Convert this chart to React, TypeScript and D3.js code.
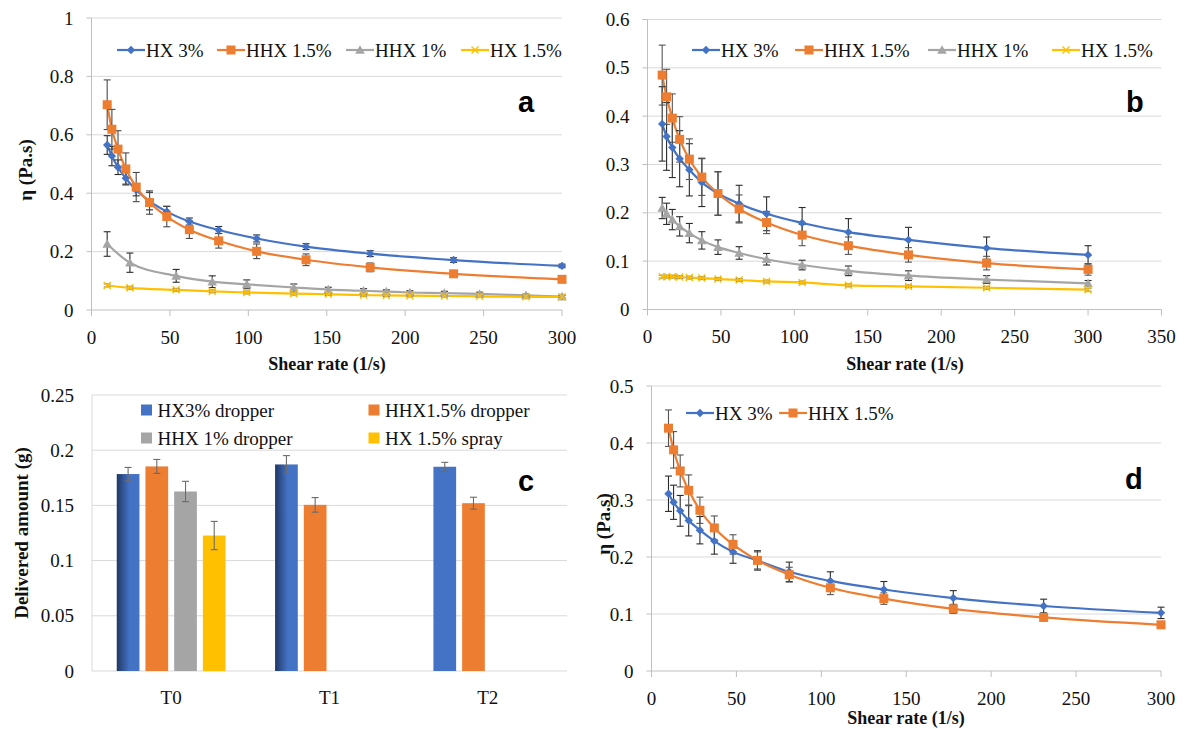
import React from 'react';
import * as d3 from 'd3';

// ---------- DATA ----------
const shearRate = [10, 13, 16.9, 21.9, 28.5, 37, 48, 62.4, 81.1, 105.3, 136.8, 177.7, 230.9, 300];
const shearRateA2 = [10, 24.5, 54, 77, 99, 129, 151, 173.5, 188, 203, 225, 247.5, 277, 300];

// panel a
const aHX3 = [0.565, 0.527, 0.489, 0.451, 0.411, 0.373, 0.337, 0.303, 0.274, 0.245, 0.217, 0.193, 0.171, 0.151];
const aHX3Err = [0.032, 0.033, 0.025, 0.02, 0.02, 0.03, 0.018, 0.012, 0.012, 0.012, 0.01, 0.01, 0.008, 0.006];
const aHHX15 = [0.703, 0.619, 0.551, 0.483, 0.421, 0.368, 0.32, 0.275, 0.237, 0.201, 0.172, 0.146, 0.124, 0.105];
const aHHX15Err = [0.085, 0.068, 0.063, 0.055, 0.05, 0.04, 0.035, 0.03, 0.025, 0.025, 0.02, 0.015, 0.008, 0.007];
const aHHX1 = [0.226, 0.162, 0.117, 0.097, 0.088, 0.077, 0.07, 0.066, 0.063, 0.06, 0.058, 0.055, 0.05, 0.046];
const aHHX1Err = [0.042, 0.033, 0.022, 0.02, 0.015, 0.012, 0.008, 0.007, 0.006, 0.006, 0.006, 0.006, 0.005, 0.005];
const aHX15 = [0.084, 0.076, 0.069, 0.064, 0.06, 0.056, 0.054, 0.051, 0.05, 0.049, 0.048, 0.047, 0.045, 0.045];
const aHX15Err = [0.005, 0.005, 0.005, 0.005, 0.005, 0.005, 0.004, 0.004, 0.004, 0.004, 0.004, 0.004, 0.004, 0.004];

// panel b
const bHX3 = [0.384, 0.358, 0.335, 0.312, 0.289, 0.263, 0.24, 0.219, 0.198, 0.179, 0.16, 0.144, 0.127, 0.113];
const bHX3Err = [0.077, 0.07, 0.062, 0.058, 0.054, 0.05, 0.045, 0.038, 0.035, 0.032, 0.028, 0.026, 0.023, 0.019];
const bHHX15 = [0.485, 0.44, 0.396, 0.352, 0.311, 0.274, 0.24, 0.208, 0.18, 0.154, 0.132, 0.113, 0.096, 0.083];
const bHHX15Err = [0.062, 0.057, 0.05, 0.047, 0.042, 0.038, 0.045, 0.029, 0.023, 0.022, 0.018, 0.015, 0.014, 0.012];
const bHHX1 = [0.21, 0.198, 0.186, 0.172, 0.158, 0.143, 0.129, 0.117, 0.104, 0.092, 0.08, 0.07, 0.062, 0.054];
const bHHX1Err = [0.022, 0.022, 0.021, 0.02, 0.02, 0.018, 0.015, 0.013, 0.012, 0.01, 0.01, 0.01, 0.008, 0.006];
const bHX15 = [0.068, 0.068, 0.068, 0.067, 0.066, 0.065, 0.063, 0.061, 0.058, 0.056, 0.05, 0.048, 0.045, 0.041];
const bHX15Err = [0.003, 0.003, 0.003, 0.003, 0.003, 0.003, 0.003, 0.003, 0.003, 0.003, 0.003, 0.003, 0.003, 0.003];

// panel c
const cCategories = ['T0', 'T1', 'T2'];
const cSeriesNames = ['HX3% dropper', 'HHX1.5% dropper', 'HHX 1% dropper', 'HX 1.5% spray'];
const cHX3 = [0.1784, 0.1871, 0.185];
const cHX3Err = [0.006, 0.008, 0.004];
const cHHX15 = [0.1853, 0.1505, 0.152];
const cHHX15Err = [0.0063, 0.0066, 0.0054];
const cHHX1 = [0.1626, null, null];
const cHHX1Err = [0.0092, null, null];
const cHX15 = [0.1227, null, null];
const cHX15Err = [0.0128, null, null];

// panel d
const dHX3 = [0.311, 0.296, 0.281, 0.264, 0.247, 0.228, 0.209, 0.194, 0.174, 0.158, 0.143, 0.128, 0.114, 0.102];
const dHX3Err = [0.031, 0.03, 0.027, 0.027, 0.024, 0.023, 0.02, 0.017, 0.017, 0.016, 0.014, 0.013, 0.012, 0.01];
const dHHX15 = [0.426, 0.388, 0.351, 0.317, 0.282, 0.251, 0.222, 0.194, 0.169, 0.146, 0.127, 0.109, 0.094, 0.081];
const dHHX15Err = [0.032, 0.032, 0.028, 0.027, 0.023, 0.021, 0.017, 0.015, 0.013, 0.012, 0.01, 0.008, 0.006, 0.005];

const legendNames = ['HX 3%', 'HHX 1.5%', 'HHX 1%', 'HX 1.5%'];

const xTicks300 = [0, 50, 100, 150, 200, 250, 300];
const xTicks350 = [0, 50, 100, 150, 200, 250, 300, 350];
const yTicksA = [0, 0.2, 0.4, 0.6, 0.8, 1];
const yLabelsA = ['0', '0.2', '0.4', '0.6', '0.8', '1'];
const yTicksB = [0, 0.1, 0.2, 0.3, 0.4, 0.5, 0.6];
const yLabelsB = ['0', '0.1', '0.2', '0.3', '0.4', '0.5', '0.6'];
const yTicksC = [0, 0.05, 0.1, 0.15, 0.2, 0.25];
const yLabelsC = ['0', '0.05', '0.1', '0.15', '0.2', '0.25'];
const yTicksD = [0, 0.1, 0.2, 0.3, 0.4, 0.5];
const yLabelsD = ['0', '0.1', '0.2', '0.3', '0.4', '0.5'];

// ---------- STYLE ----------
const BLUE = '#4472C4';
const ORANGE = '#ED7D31';
const GRAY = '#A5A5A5';
const YELLOW = '#FFC000';
const GRID = '#d9d9d9';
const AXIS = '#bfbfbf';
const SERIF = '"Liberation Serif", "Times New Roman", serif';
const SANS = '"Liberation Sans", Arial, sans-serif';
const TXT = '#111';

type Marker = 'diamond' | 'square' | 'triangle' | 'x';
type Series = { xs: number[]; ys: number[]; errs: number[]; color: string; marker: Marker; errColor: string };

function MarkerShape({ type, cx, cy, color }: { type: Marker; cx: number; cy: number; color: string }) {
  if (type === 'diamond') {
    const r = 4.2;
    return <path d={`M${cx},${cy - r}L${cx + r},${cy}L${cx},${cy + r}L${cx - r},${cy}Z`} fill={color} />;
  }
  if (type === 'square') {
    const s = 9;
    return <rect x={cx - s / 2} y={cy - s / 2} width={s} height={s} fill={color} />;
  }
  if (type === 'triangle') {
    const r = 4.8;
    return <path d={`M${cx},${cy - r}L${cx + r},${cy + r * 0.8}L${cx - r},${cy + r * 0.8}Z`} fill={color} />;
  }
  const r = 3.5;
  return (
    <path d={`M${cx - r},${cy - r}L${cx + r},${cy + r}M${cx - r},${cy + r}L${cx + r},${cy - r}`} stroke={color} strokeWidth={1.4} fill="none" />
  );
}

function ErrorBar({ x, yTop, yBot, color, cap = 3.5 }: { x: number; yTop: number; yBot: number; color: string; cap?: number }) {
  return (
    <g stroke={color} strokeWidth={1.1} fill="none">
      <line x1={x} x2={x} y1={yTop} y2={yBot} />
      <line x1={x - cap} x2={x + cap} y1={yTop} y2={yTop} />
      <line x1={x - cap} x2={x + cap} y1={yBot} y2={yBot} />
    </g>
  );
}

type LineProps = {
  left: number; right: number; top: number; bottom: number;
  xMax: number; yMax: number;
  xTicks: number[]; yTicks: number[]; yLabels: string[];
  series: Series[];
  legendXs: number[]; legendY: number;
  xTitleX: number; xTitleY: number;
  yTitle?: { x: number; y: number };
  letter: string; letterX: number; letterY: number;
};

function LinePanel(p: LineProps) {
  const x = d3.scaleLinear().domain([0, p.xMax]).range([p.left, p.right]);
  const y = d3.scaleLinear().domain([0, p.yMax]).range([p.bottom, p.top]);
  const line = d3.line<[number, number]>().x((d) => x(d[0])).y((d) => y(d[1])).curve(d3.curveMonotoneX);
  return (
    <g>
      {p.yTicks.filter((t) => t > 0).map((t) => (
        <line key={'g' + t} x1={p.left} x2={p.right} y1={y(t)} y2={y(t)} stroke={GRID} strokeWidth={1} />
      ))}
      <line x1={p.left} x2={p.left} y1={p.top} y2={p.bottom} stroke={AXIS} />
      <line x1={p.left} x2={p.right} y1={p.bottom} y2={p.bottom} stroke={AXIS} />
      {p.yTicks.map((t) => (
        <line key={'yt' + t} x1={p.left - 5} x2={p.left} y1={y(t)} y2={y(t)} stroke={AXIS} />
      ))}
      {p.xTicks.map((t) => (
        <line key={'xt' + t} x1={x(t)} x2={x(t)} y1={p.bottom} y2={p.bottom + 6} stroke={AXIS} />
      ))}
      {p.yTicks.map((t, i) => (
        <text key={'yl' + t} x={p.left - 18} y={y(t)} textAnchor="end" dominantBaseline="central" fontFamily={SERIF} fontSize={19} fill={TXT}>
          {p.yLabels[i]}
        </text>
      ))}
      {p.xTicks.map((t) => (
        <text key={'xl' + t} x={x(t)} y={p.bottom + 27} textAnchor="middle" dominantBaseline="central" fontFamily={SERIF} fontSize={19} fill={TXT}>
          {t}
        </text>
      ))}
      <text x={p.xTitleX} y={p.xTitleY} textAnchor="middle" dominantBaseline="central" fontFamily={SERIF} fontWeight="bold" fontSize={18} fill={TXT}>
        Shear rate (1/s)
      </text>
      {p.yTitle && (
        <text transform={`translate(${p.yTitle.x},${p.yTitle.y}) rotate(-90)`} textAnchor="middle" dominantBaseline="central" fontFamily={SERIF} fontWeight="bold" fontSize={19} fill={TXT}>
          η (Pa.s)
        </text>
      )}
      {p.series.map((s, si) => (
        <g key={'s' + si}>
          <path d={line(s.xs.map((v, i) => [v, s.ys[i]]) as [number, number][]) || ''} fill="none" stroke={s.color} strokeWidth={2.2} />
        </g>
      ))}
      {p.series.map((s, si) => (
        <g key={'e' + si}>
          {s.xs.map((v, i) => (
            <ErrorBar key={i} x={x(v)} yTop={y(s.ys[i] + s.errs[i])} yBot={y(s.ys[i] - s.errs[i])} color={s.errColor} />
          ))}
        </g>
      ))}
      {p.series.map((s, si) => (
        <g key={'m' + si}>
          {s.xs.map((v, i) => (
            <MarkerShape key={i} type={s.marker} cx={x(v)} cy={y(s.ys[i])} color={s.color} />
          ))}
        </g>
      ))}
      {p.series.map((s, si) => (
        <g key={'l' + si}>
          <line x1={p.legendXs[si]} x2={p.legendXs[si] + 28} y1={p.legendY} y2={p.legendY} stroke={s.color} strokeWidth={2.2} />
          <MarkerShape type={s.marker} cx={p.legendXs[si] + 14} cy={p.legendY} color={s.color} />
          <text x={p.legendXs[si] + 29} y={p.legendY} dominantBaseline="central" fontFamily={SERIF} fontSize={19} fill={TXT}>
            {legendNames[si]}
          </text>
        </g>
      ))}
      <text x={p.letterX} y={p.letterY} fontFamily={SANS} fontWeight="bold" fontSize={29} fill="#000">
        {p.letter}
      </text>
    </g>
  );
}

function BarPanel() {
  const left = 92, right = 567, top = 395, bottom = 671;
  const x0 = d3.scaleBand<string>().domain(cCategories).range([left, right]).paddingInner(0).paddingOuter(0);
  const x1 = d3.scaleBand<string>().domain(cSeriesNames).range([0, x0.bandwidth()]).paddingInner(0.209).paddingOuter(0.8625);
  const y = d3.scaleLinear().domain([0, 0.25]).range([bottom, top]);
  const seriesVals = [cHX3, cHHX15, cHHX1, cHX15];
  const seriesErrs = [cHX3Err, cHHX15Err, cHHX1Err, cHX15Err];
  const colors = [BLUE, ORANGE, GRAY, YELLOW];
  const legendPos = [
    [141, 410], [368.5, 410], [141, 438], [368.5, 438],
  ];
  return (
    <g>
      <defs>
        <linearGradient id="blueGrad" x1="0" x2="1" y1="0" y2="0">
          <stop offset="0" stopColor="#1f3864" />
          <stop offset="0.55" stopColor="#4472C4" />
          <stop offset="1" stopColor="#4472C4" />
        </linearGradient>
      </defs>
      {yTicksC.filter((t) => t > 0).map((t) => (
        <line key={t} x1={left} x2={right} y1={y(t)} y2={y(t)} stroke={GRID} />
      ))}
      <line x1={left} x2={left} y1={top} y2={bottom} stroke={GRID} />
      <line x1={left} x2={right} y1={bottom} y2={bottom} stroke={GRID} />
      {yTicksC.map((t, i) => (
        <text key={'yl' + t} x={74} y={y(t)} textAnchor="end" dominantBaseline="central" fontFamily={SERIF} fontSize={19} fill={TXT}>
          {yLabelsC[i]}
        </text>
      ))}
      {cCategories.map((c) => (
        <text key={c} x={(x0(c) as number) + x0.bandwidth() / 2} y={697} textAnchor="middle" dominantBaseline="central" fontFamily={SERIF} fontSize={19} fill={TXT}>
          {c}
        </text>
      ))}
      {seriesVals.map((vals, si) =>
        vals.map((v, ci) => {
          if (v == null) return null;
          const bx = (x0(cCategories[ci]) as number) + (x1(cSeriesNames[si]) as number);
          const fill = si === 0 && ci < 2 ? 'url(#blueGrad)' : colors[si];
          return <rect key={si + '-' + ci} x={bx} y={y(v)} width={x1.bandwidth()} height={bottom - y(v)} fill={fill} />;
        })
      )}
      {seriesVals.map((vals, si) =>
        vals.map((v, ci) => {
          const e = seriesErrs[si][ci];
          if (v == null || e == null) return null;
          const cx = (x0(cCategories[ci]) as number) + (x1(cSeriesNames[si]) as number) + x1.bandwidth() / 2;
          return <ErrorBar key={'e' + si + '-' + ci} x={cx} yTop={y(v + e)} yBot={y(v - e)} color="#6b6b6b" cap={3.5} />;
        })
      )}
      {cSeriesNames.map((n, i) => (
        <g key={n}>
          <rect x={legendPos[i][0]} y={legendPos[i][1] - 5.5} width={11} height={11} fill={colors[i]} />
          <text x={legendPos[i][0] + 16.5} y={legendPos[i][1]} dominantBaseline="central" fontFamily={SERIF} fontSize={19} fill={TXT}>
            {n}
          </text>
        </g>
      ))}
      <text transform="translate(21,533) rotate(-90)" textAnchor="middle" dominantBaseline="central" fontFamily={SERIF} fontWeight="bold" fontSize={19} fill={TXT}>
        Delivered amount (g)
      </text>
      <text x={518} y={491} fontFamily={SANS} fontWeight="bold" fontSize={29} fill="#000">c</text>
    </g>
  );
}

export default function App() {
  const seriesA: Series[] = [
    { xs: shearRate, ys: aHX3, errs: aHX3Err, color: BLUE, marker: 'diamond', errColor: '#2b2b2b' },
    { xs: shearRate, ys: aHHX15, errs: aHHX15Err, color: ORANGE, marker: 'square', errColor: '#4a4a4a' },
    { xs: shearRateA2, ys: aHHX1, errs: aHHX1Err, color: GRAY, marker: 'triangle', errColor: '#2b2b2b' },
    { xs: shearRateA2, ys: aHX15, errs: aHX15Err, color: YELLOW, marker: 'x', errColor: '#7a7a7a' },
  ];
  const seriesB: Series[] = [
    { xs: shearRate, ys: bHX3, errs: bHX3Err, color: BLUE, marker: 'diamond', errColor: '#2b2b2b' },
    { xs: shearRate, ys: bHHX15, errs: bHHX15Err, color: ORANGE, marker: 'square', errColor: '#555' },
    { xs: shearRate, ys: bHHX1, errs: bHHX1Err, color: GRAY, marker: 'triangle', errColor: '#2b2b2b' },
    { xs: shearRate, ys: bHX15, errs: bHX15Err, color: YELLOW, marker: 'x', errColor: '#7a7a7a' },
  ];
  const seriesD: Series[] = [
    { xs: shearRate, ys: dHX3, errs: dHX3Err, color: BLUE, marker: 'diamond', errColor: '#2b2b2b' },
    { xs: shearRate, ys: dHHX15, errs: dHHX15Err, color: ORANGE, marker: 'square', errColor: '#555' },
  ];
  return (
    <svg width={1184} height={729} style={{ position: 'absolute', left: 0, top: 0, background: '#fff' }}>
      <rect width={1184} height={729} fill="#fff" />
      <LinePanel left={91.5} right={562} top={18} bottom={310} xMax={300} yMax={1}
        xTicks={xTicks300} yTicks={yTicksA} yLabels={yLabelsA} series={seriesA}
        legendXs={[117, 217, 346, 461]} legendY={50}
        xTitleX={327} xTitleY={364} yTitle={{ x: 25, y: 170 }}
        letter="a" letterX={518} letterY={112} />
      <LinePanel left={647.5} right={1161.5} top={19.5} bottom={309.5} xMax={350} yMax={0.6}
        xTicks={xTicks350} yTicks={yTicksB} yLabels={yLabelsB} series={seriesB}
        legendXs={[692, 795, 928, 1052]} legendY={50}
        xTitleX={905} xTitleY={364}
        letter="b" letterX={1126} letterY={112} />
      <BarPanel />
      <LinePanel left={651.5} right={1161} top={386} bottom={671} xMax={300} yMax={0.5}
        xTicks={xTicks300} yTicks={yTicksD} yLabels={yLabelsD} series={seriesD}
        legendXs={[686, 779]} legendY={413}
        xTitleX={906} xTitleY={718} yTitle={{ x: 603, y: 524 }}
        letter="d" letterX={1125} letterY={489} />
    </svg>
  );
}
